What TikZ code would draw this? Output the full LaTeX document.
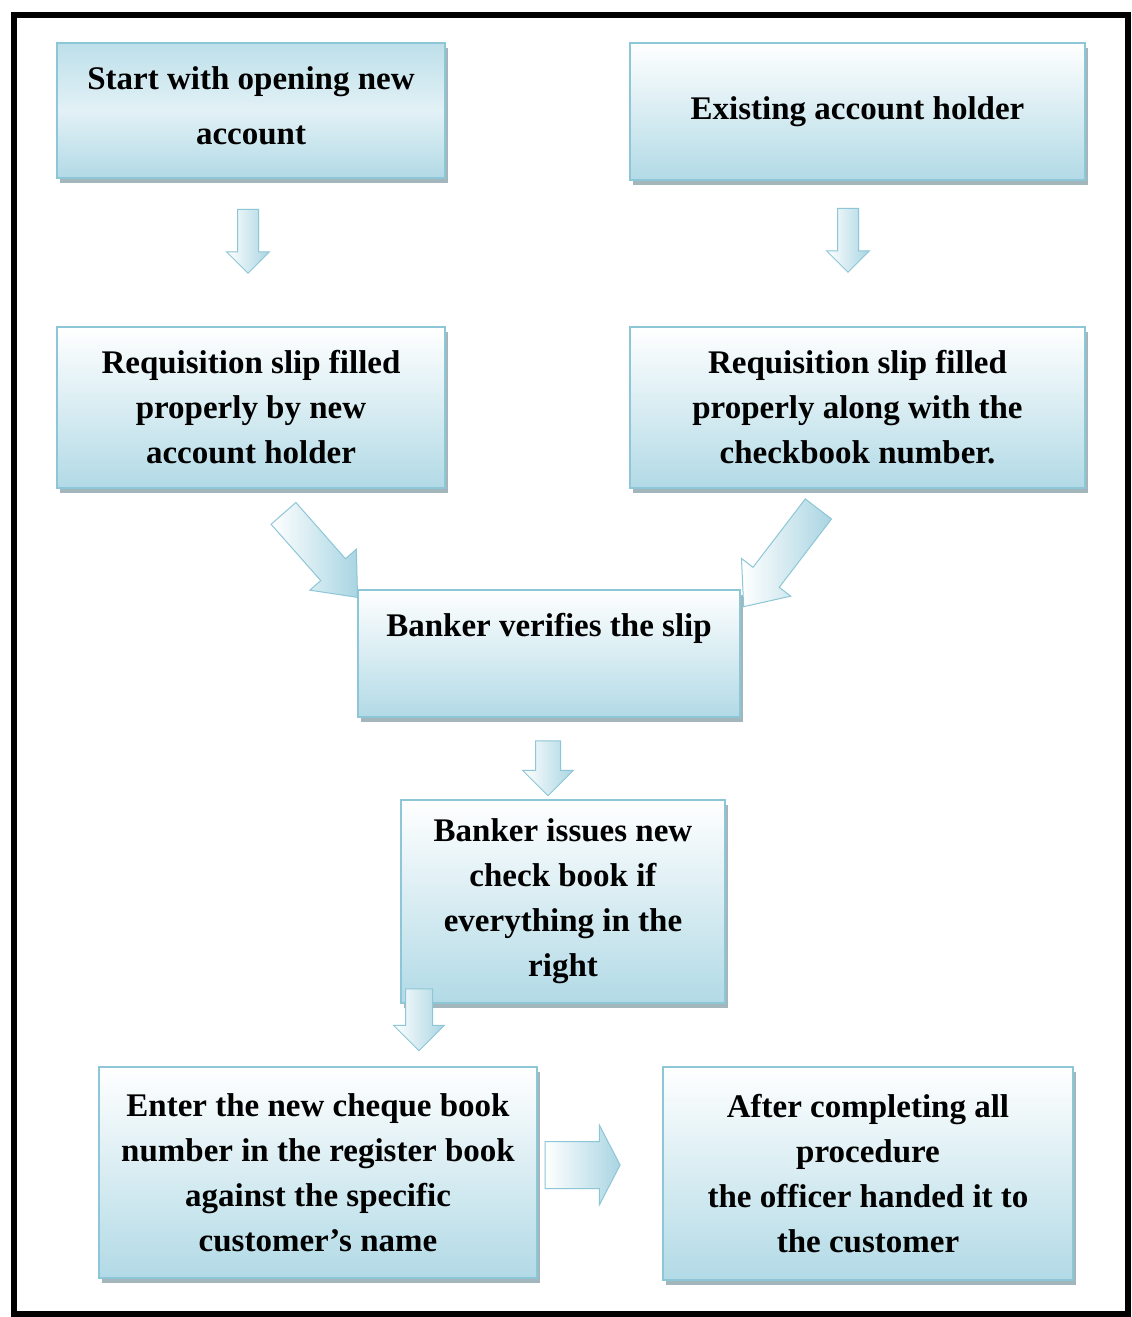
\documentclass[tikz,border=0pt]{standalone}
\usepackage{fontspec}
\setmainfont{Liberation Serif}
\usetikzlibrary{shapes.arrows,shadows,calc}
\definecolor{bordc}{HTML}{8DC6D6}
\definecolor{fillb}{HTML}{B2DAE6}
\definecolor{fillm}{HTML}{E2F1F6}
\definecolor{shad}{HTML}{A3B6BC}
\definecolor{arrb}{HTML}{A9D5E2}
\begin{document}
\begin{tikzpicture}[x=1pt,y=-1pt,
  box/.style={draw=bordc, line width=1.5pt, top color=white, bottom color=fillb,
    align=center, inner sep=0pt, font=\fontsize{33}{45}\selectfont\bfseries,
    drop shadow={shadow xshift=3pt, shadow yshift=-5pt, fill=shad, opacity=1}},
  blk/.style={single arrow, draw=bordc, line width=1pt, inner xsep=0pt,
    left color=white, right color=arrb}]
\useasboundingbox (0,0) rectangle (1132,1317);
\fill[white] (0,0) rectangle (1132,1317);
\draw[line width=6pt] (13.5,14.5) rectangle (1128,1314);

\node[box, minimum width=388pt, minimum height=135pt, top color=fillb!85, bottom color=fillb, middle color=fillm] (b1) at (251,110.5)
  {Start with opening new\\[10pt]account\\[-35pt]\mbox{}};
\node[box, minimum width=455pt, minimum height=137pt] (b2) at (857.5,111.5)
  {Existing account holder};
\node[box, minimum width=388pt, minimum height=161pt] (b3) at (251,407.5)
  {Requisition slip filled\\properly by new\\account holder};
\node[box, minimum width=455pt, minimum height=161pt] (b4) at (857.5,407.5)
  {Requisition slip filled\\properly along with the\\checkbook number.};
\node[box, minimum width=382pt, minimum height=127pt] (b5) at (549,653.5)
  {Banker verifies the slip\\[12pt]\mbox{}};
\node[box, minimum width=324pt, minimum height=203pt] (b6) at (563,901.5)
  {Banker issues new\\check book if\\everything in the\\right};
\node[box, minimum width=438pt, minimum height=211pt] (b7) at (318,1172.5)
  {Enter the new cheque book\\number in the register book\\against the specific\\customer's name};
\node[box, minimum width=410pt, minimum height=213pt] (b8) at (868,1173.5)
  {After completing all\\procedure\\the officer handed it to\\the customer};

\node[blk, minimum height=64pt, inner ysep=10pt, single arrow head extend=11pt, rotate=-90] (a1) at (248,236) {};
\node[blk, minimum height=64pt, inner ysep=10pt, single arrow head extend=11pt, rotate=-90] (a2) at (848,235) {};
\node[blk, minimum height=112pt, inner ysep=16pt, single arrow head extend=14.5pt, single arrow tip angle=80, rotate=-48.6] (a5) at (314,548) {};
\node[blk, minimum height=123pt, inner ysep=16pt, single arrow head extend=14.5pt, single arrow tip angle=80, rotate=-127.4] (a6) at (787,550) {};
\node[blk, minimum height=55pt, inner ysep=12pt, single arrow head extend=13pt, rotate=-90] (a3) at (548,762) {};
\node[blk, minimum height=62pt, inner ysep=13pt, single arrow head extend=12pt, rotate=-90] (a4) at (419,1013) {};
\node[blk, minimum height=75pt, inner ysep=23pt, single arrow head extend=16.5pt, single arrow tip angle=125] (a7) at (576.5,1165) {};
\end{tikzpicture}
\end{document}
